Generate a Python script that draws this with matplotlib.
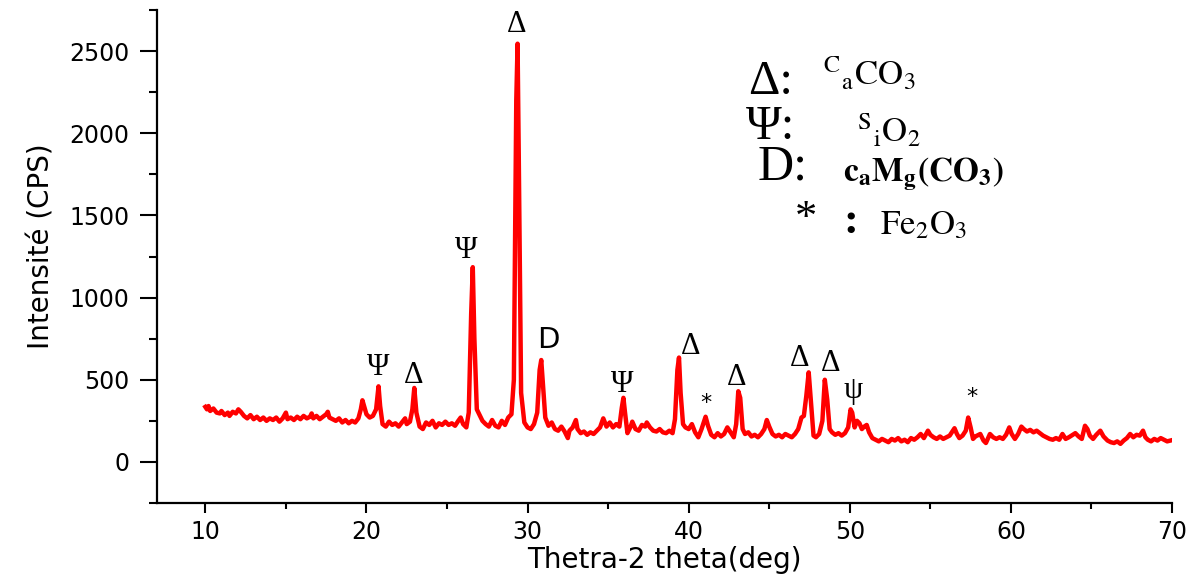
import matplotlib
matplotlib.use("Agg")
import matplotlib.pyplot as plt
from matplotlib import font_manager
from matplotlib.ticker import MultipleLocator

# diffractogramme (2theta en deg, intensite en CPS)
two_theta = [
    10.0, 10.1, 10.2, 10.3, 10.5, 10.7, 10.9, 11.0, 11.2, 11.4, 11.5, 11.7, 11.9, 12.05, 12.2, 12.4,
    12.6, 12.8, 13.0, 13.2, 13.4, 13.6, 13.8, 14.0, 14.2, 14.4, 14.6, 14.8, 15.0, 15.1, 15.3, 15.5,
    15.7, 15.9, 16.1, 16.3, 16.5, 16.6, 16.7, 16.9, 17.1, 17.3, 17.5, 17.6, 17.7, 17.9, 18.1, 18.3,
    18.5, 18.7, 18.9, 19.1, 19.3, 19.5, 19.65, 19.75, 19.85, 20.0, 20.2, 20.4, 20.6, 20.75, 20.85, 21.0,
    21.2, 21.4, 21.6, 21.8, 22.0, 22.2, 22.4, 22.5, 22.7, 22.85, 22.97, 23.1, 23.3, 23.5, 23.7, 23.9,
    24.1, 24.3, 24.5, 24.7, 24.9, 25.1, 25.3, 25.5, 25.7, 25.85, 26.0, 26.2, 26.35, 26.5, 26.6, 26.7,
    26.85, 27.0, 27.2, 27.4, 27.6, 27.8, 28.0, 28.2, 28.4, 28.6, 28.8, 29.0, 29.15, 29.3, 29.38, 29.45,
    29.6, 29.8, 30.0, 30.2, 30.4, 30.6, 30.75, 30.85, 30.95, 31.1, 31.3, 31.5, 31.7, 31.9, 32.1, 32.3,
    32.5, 32.6, 32.8, 33.0, 33.1, 33.3, 33.5, 33.7, 33.9, 34.1, 34.3, 34.5, 34.7, 34.9, 35.1, 35.3,
    35.5, 35.7, 35.85, 35.95, 36.05, 36.2, 36.4, 36.5, 36.7, 36.9, 37.1, 37.3, 37.4, 37.6, 37.8, 38.0,
    38.2, 38.4, 38.6, 38.8, 39.0, 39.15, 39.3, 39.4, 39.5, 39.65, 39.8, 40.0, 40.2, 40.4, 40.6, 40.8,
    40.95, 41.05, 41.2, 41.4, 41.6, 41.8, 42.0, 42.2, 42.4, 42.6, 42.8, 42.95, 43.08, 43.2, 43.35, 43.5,
    43.7, 43.9, 44.1, 44.3, 44.5, 44.7, 44.85, 45.0, 45.2, 45.4, 45.6, 45.8, 46.0, 46.2, 46.4, 46.6,
    46.8, 47.0, 47.15, 47.3, 47.45, 47.6, 47.75, 47.9, 48.1, 48.3, 48.45, 48.6, 48.75, 48.9, 49.1, 49.3,
    49.5, 49.7, 49.9, 50.05, 50.15, 50.3, 50.45, 50.6, 50.75, 50.9, 51.05, 51.2, 51.4, 51.6, 51.8, 52.0,
    52.2, 52.4, 52.6, 52.8, 53.0, 53.2, 53.4, 53.6, 53.8, 54.0, 54.2, 54.4, 54.6, 54.85, 55.0, 55.2,
    55.4, 55.6, 55.8, 56.0, 56.2, 56.5, 56.65, 56.8, 57.0, 57.2, 57.35, 57.5, 57.65, 57.8, 58.1, 58.3,
    58.45, 58.7, 58.9, 59.1, 59.3, 59.5, 59.7, 59.9, 60.05, 60.25, 60.45, 60.65, 60.8, 61.0, 61.2, 61.4,
    61.6, 61.8, 62.0, 62.2, 62.4, 62.6, 62.8, 63.0, 63.2, 63.4, 63.6, 64.0, 64.2, 64.4, 64.6, 64.75,
    64.9, 65.1, 65.3, 65.55, 65.75, 66.0, 66.2, 66.4, 66.6, 66.8, 67.0, 67.2, 67.4, 67.6, 67.8, 68.0,
    68.2, 68.35, 68.5, 68.7, 68.9, 69.1, 69.3, 69.5, 69.7, 69.9,
]
intensity = [
    335, 320, 340, 310, 325, 300, 295, 310, 285, 300, 280, 305, 295, 320, 305, 280,
    265, 285, 260, 275, 255, 270, 250, 265, 255, 270, 245, 265, 300, 260, 270, 255,
    275, 260, 280, 265, 275, 295, 265, 280, 260, 275, 290, 305, 270, 260, 250, 265,
    240, 255, 235, 250, 240, 265, 320, 375, 340, 290, 270, 280, 320, 460, 340, 230,
    215, 245, 225, 235, 215, 240, 265, 230, 245, 320, 450, 300, 215, 200, 240, 225,
    250, 210, 235, 225, 245, 225, 235, 220, 250, 270, 230, 210, 300, 900, 1185, 750,
    320, 290, 250, 230, 215, 255, 220, 210, 250, 225, 270, 290, 500, 2200, 2545, 1900,
    420, 240, 210, 200, 230, 300, 560, 620, 480, 270, 220, 240, 200, 190, 215, 185,
    145, 190, 210, 255, 200, 175, 185, 165, 180, 170, 190, 210, 265, 215, 240, 210,
    230, 215, 330, 390, 300, 175, 215, 245, 200, 190, 225, 215, 240, 210, 190, 185,
    200, 180, 175, 190, 175, 260, 560, 635, 420, 230, 210, 200, 230, 180, 150, 200,
    245, 275, 220, 165, 150, 175, 155, 170, 210, 180, 150, 230, 430, 390, 200, 170,
    180, 155, 165, 150, 170, 200, 255, 215, 170, 155, 165, 150, 170, 160, 150, 170,
    200, 270, 280, 400, 545, 350, 160, 150, 170, 250, 500, 380, 200, 180, 165, 175,
    160, 175, 210, 320, 300, 210, 250, 235, 200, 215, 225, 180, 145, 135, 125, 140,
    130, 120, 140, 130, 145, 125, 135, 120, 145, 135, 150, 170, 145, 190, 165, 150,
    140, 155, 140, 150, 160, 205, 170, 145, 160, 190, 270, 210, 140, 155, 170, 130,
    115, 170, 150, 140, 150, 140, 165, 210, 170, 140, 170, 215, 200, 185, 195, 180,
    190, 175, 160, 150, 140, 135, 145, 135, 170, 140, 150, 175, 155, 140, 220, 200,
    160, 140, 165, 190, 155, 130, 120, 115, 125, 110, 130, 145, 170, 150, 165, 160,
    190, 150, 135, 125, 140, 130, 145, 135, 125, 130,
]

# reperes des phases au-dessus des pics
mark_text = ["Ψ", "Δ", "Ψ", "Δ", "D", "Ψ", "Δ", "*", "Δ", "Δ", "Δ", "ψ", "*"]
mark_x = [20.73, 22.9, 26.2, 29.3, 31.28, 35.87, 40.15, 41.08, 43.0, 46.9, 48.83, 50.2, 57.6]
mark_y = [576, 527, 1287, 2659, 741, 472, 705, 361, 515, 631, 600, 435, 392]

plt.rcParams['mathtext.fontset'] = 'stix'

names = {f.name for f in font_manager.fontManager.ttflist}
if 'Liberation Sans Narrow' in names:
    ylab_font, ylab_size = 'Liberation Sans Narrow', 25
else:
    ylab_font, ylab_size = 'DejaVu Sans', 20

fig = plt.figure(figsize=(11.94, 5.75), dpi=100)
ax = fig.add_axes([157 / 1194, 72 / 575, 1015 / 1194, 493 / 575])

ax.plot(two_theta, intensity, color='#ff0000', linewidth=3.2, solid_joinstyle='round')

ax.set_xlim(7, 70)
ax.set_ylim(-250, 2750)
ax.xaxis.set_major_locator(MultipleLocator(10))
ax.xaxis.set_minor_locator(MultipleLocator(5))
ax.yaxis.set_major_locator(MultipleLocator(500))
ax.yaxis.set_minor_locator(MultipleLocator(250))

for s in ['top', 'right']:
    ax.spines[s].set_visible(False)
for s in ['left', 'bottom']:
    ax.spines[s].set_linewidth(1.6)

ax.tick_params(axis='y', which='major', length=12, width=1.5, pad=8, labelsize=17)
ax.tick_params(axis='y', which='minor', length=6, width=1.5)
ax.tick_params(axis='x', which='major', length=7, width=1.5, pad=5, labelsize=17)
ax.tick_params(axis='x', which='minor', length=4, width=1.5)

ax.set_xlabel('Thetra-2 theta(deg)', fontsize=20)
ax.xaxis.set_label_coords(0.5, -0.088)
ax.set_ylabel('Intensité (CPS)', fontsize=ylab_size, family=ylab_font)
ax.yaxis.set_label_coords(-0.1, 0.52)

for t, x, y in zip(mark_text, mark_x, mark_y):
    if t == 'D':
        ax.text(x, y, t, fontsize=21, ha='center', va='center', family='DejaVu Sans')
    elif t == '*':
        ax.text(x, y, t, fontsize=16, ha='center', va='center', family='DejaVu Sans')
    else:
        ax.text(x, y, t, fontsize=22, ha='center', va='center', family='Liberation Serif')

# legende des phases (texte libre en haut a droite)
W, H = 1194, 575
def ftext(px, py, s, size, **kw):
    fig.text(px / W, 1 - py / H, s, fontsize=size, ha='left', va='baseline', **kw)

ftext(748, 94, 'Δ:', 35, family='Liberation Serif')
ftext(823, 85, r'$^{\mathrm{C}}{}_{\mathrm{a}}\mathrm{CO}_{3}$', 25)
ftext(746, 139, 'Ψ:', 35, family='Liberation Serif')
ftext(857, 142, r'$^{\mathrm{S}}{}_{\mathrm{i}}\mathrm{O}_{2}$', 25)
ftext(758, 180, 'D:', 36, family='Liberation Serif')
ftext(843, 181, r'$\mathbf{c_{a}M_{g}(CO_{3})}$', 24)
ftext(795, 230, '*', 32, family='Liberation Serif')
ftext(843, 233, ':', 32, family='Liberation Serif', fontweight='bold')
ftext(880, 234, r'$\mathrm{Fe_{2}O_{3}}$', 25)

fig.savefig('out.png', dpi=100)
